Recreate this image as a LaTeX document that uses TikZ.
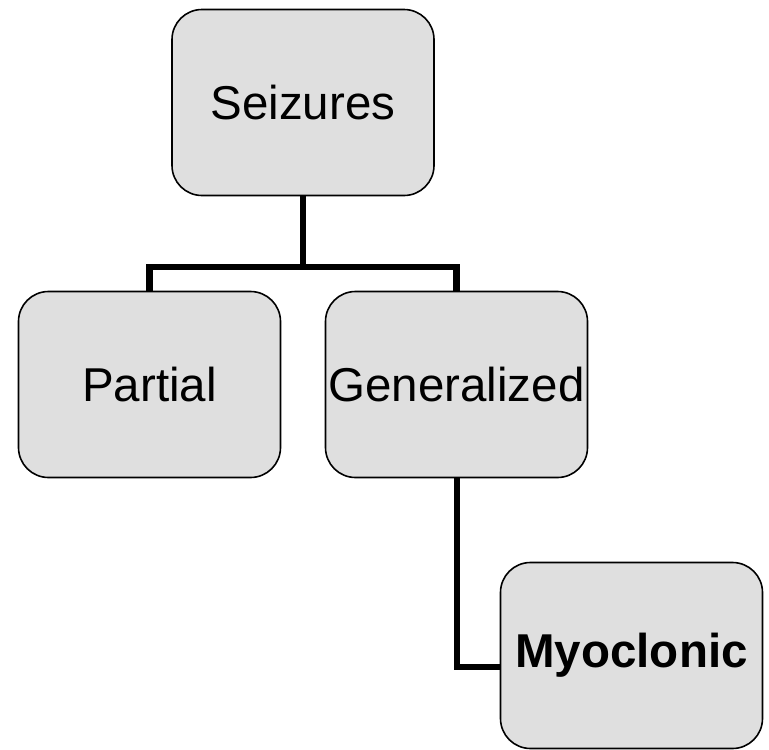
\documentclass[tikz,border=0pt]{standalone}
\usepackage{fontspec}
\setmainfont{Liberation Sans}
\definecolor{boxgray}{HTML}{DFDFDF}
\begin{document}
\begin{tikzpicture}[x=1pt,y=-1pt,
  box/.style={draw=black, line width=1.6pt, fill=boxgray, rounded corners=30pt,
    minimum width=262pt, minimum height=186pt, inner sep=0pt,
    font=\fontsize{47.5}{56}\selectfont},
  link/.style={draw=black, line width=6.5pt, line join=miter}]
\useasboundingbox (0,0) rectangle (769,750);

% branch points of the classification tree
\coordinate (split) at (303,267);
\coordinate (bend) at (457,667);

\node[box] (seiz) at (303,102.5) {Seizures};
\node[box] (part) at (149.5,384.5) {Partial};
\node[box] (gen)  at (456.5,384.5) {Generalized};
\node[box, font=\fontsize{47.5}{56}\selectfont\bfseries] (myo) at (631.5,655.5) {Myoclonic};

\draw[link] (seiz.south) -- (split) -| (part.north);
\draw[link] (split) -| (gen.north);
\draw[link] (gen.south -| bend) -- (bend) -- (myo.west |- bend);
\end{tikzpicture}
\end{document}
